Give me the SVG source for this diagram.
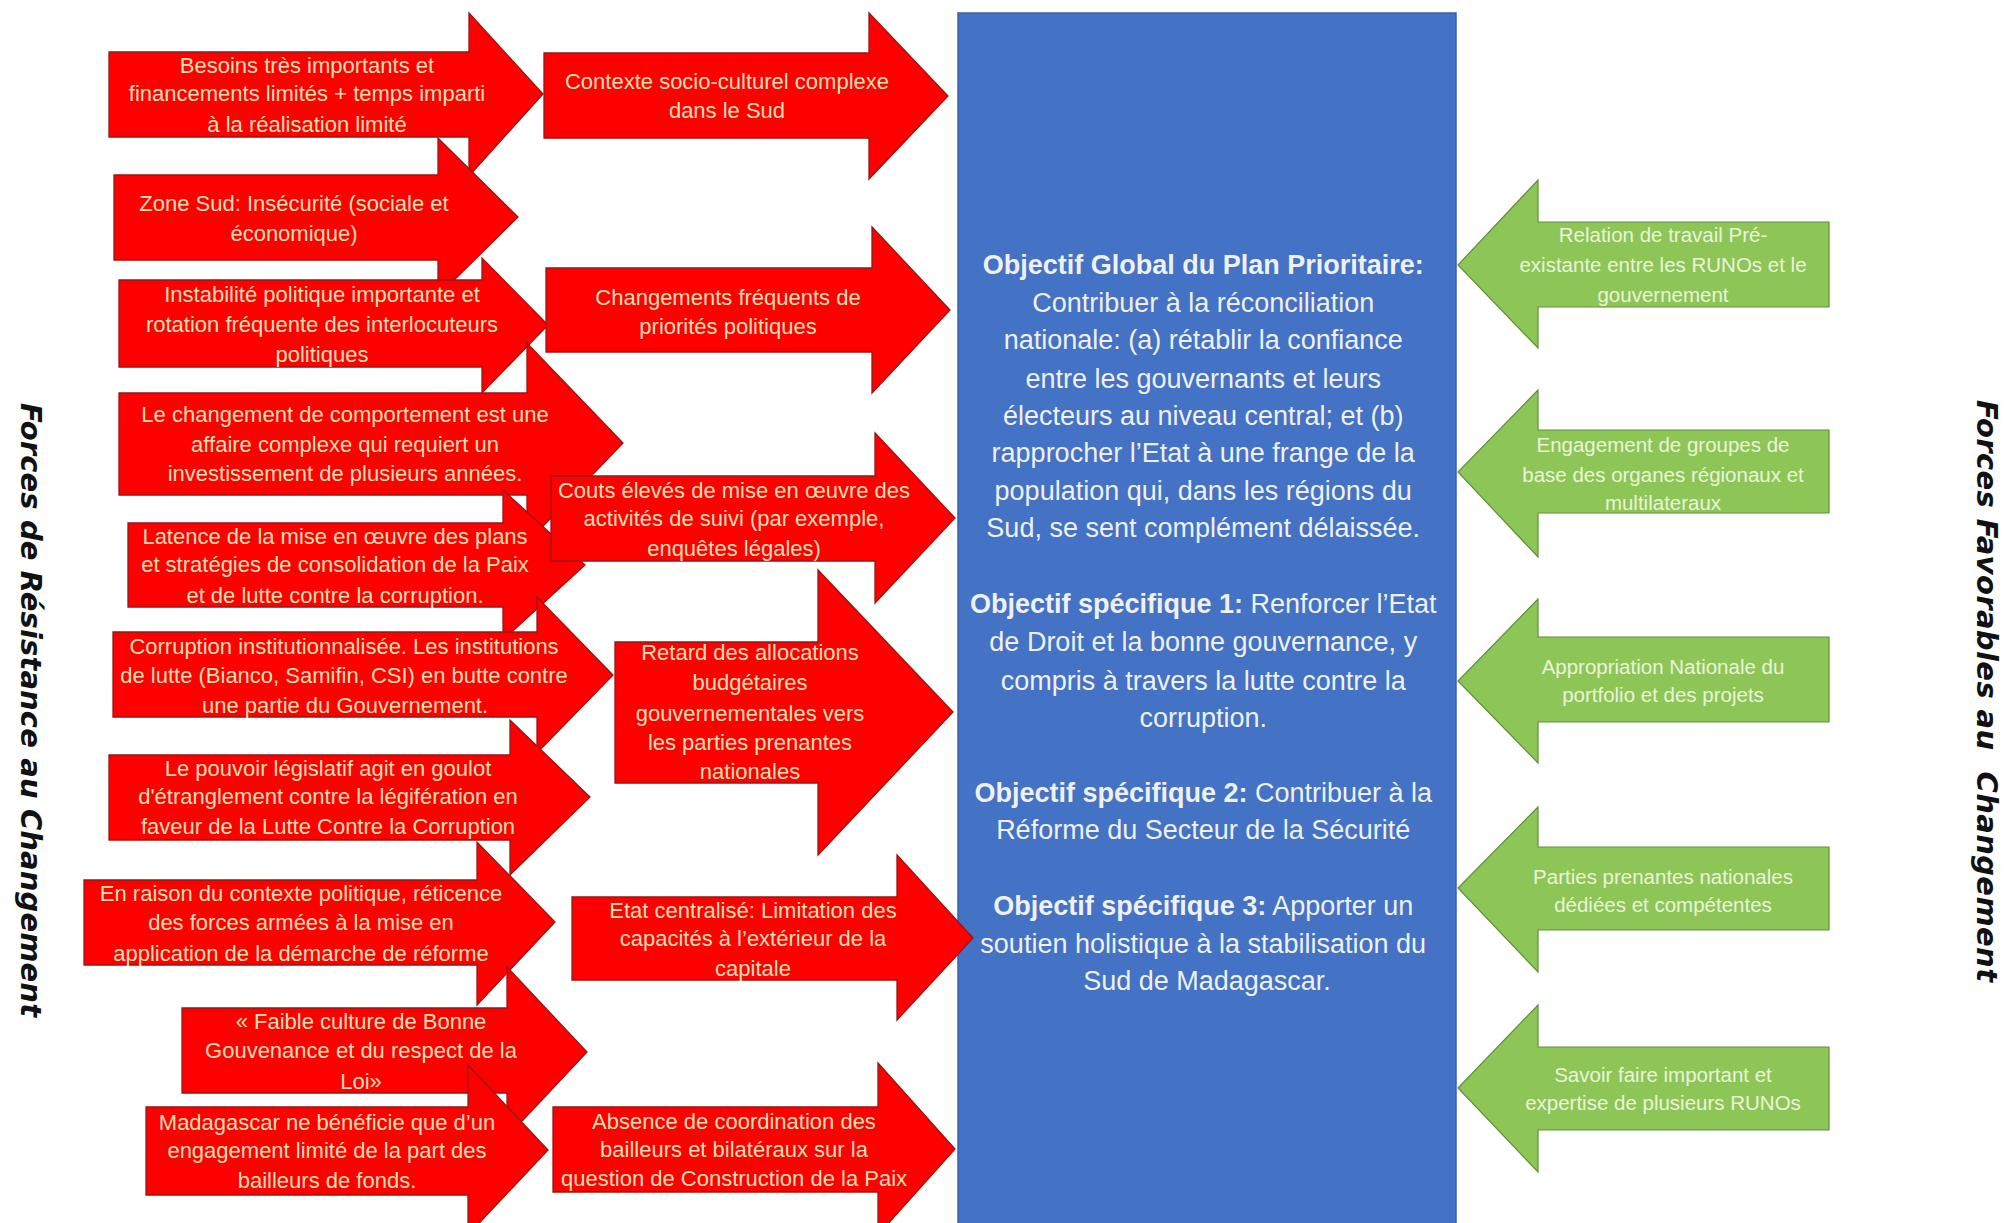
<svg xmlns="http://www.w3.org/2000/svg" width="2006" height="1223" viewBox="0 0 2006 1223">
<style>
.red{fill:#ff0000;stroke:#9a1414;stroke-width:1.3}
.grn{fill:#8dc656;stroke:#5f8f3a;stroke-width:1.2}
.rt{font-family:"Liberation Sans",Arial,sans-serif;font-size:22px;fill:#f7dfb4;text-anchor:middle}
.gt{font-family:"Liberation Sans",Arial,sans-serif;font-size:20.5px;fill:#eaf4dc;text-anchor:middle}
.bt{font-family:"Liberation Sans",Arial,sans-serif;font-size:27px;fill:#f0f0f0;text-anchor:middle}
.b{font-weight:bold}
.side{font-family:"DejaVu Sans",Verdana,sans-serif;font-weight:bold;font-style:italic;font-size:29px;fill:#111;text-anchor:middle;white-space:pre}
</style>
<rect width="2006" height="1223" fill="#ffffff"/>
<g id="objectifs">
<rect x="958" y="13" width="498" height="1215" fill="#4472c4" stroke="#3a62aa" stroke-width="1.5"/>
<text class="bt"><tspan class="b" x="1207" y="274">Objectif Global du Plan Prioritaire:</tspan>
<tspan x="1207" y="312">Contribuer à la réconciliation</tspan>
<tspan x="1207" y="349">nationale: (a) rétablir la confiance</tspan>
<tspan x="1207" y="388">entre les gouvernants et leurs</tspan>
<tspan x="1207" y="425">électeurs au niveau central; et (b)</tspan>
<tspan x="1207" y="462">rapprocher l’Etat à une frange de la</tspan>
<tspan x="1207" y="500">population qui, dans les régions du</tspan>
<tspan x="1207" y="537">Sud, se sent complément délaissée.</tspan>
<tspan x="1207" y="613"><tspan class="b">Objectif spécifique 1:</tspan> Renforcer l’Etat</tspan>
<tspan x="1207" y="651">de Droit et la bonne gouvernance, y</tspan>
<tspan x="1207" y="690">compris à travers la lutte contre la</tspan>
<tspan x="1207" y="727">corruption.</tspan>
<tspan x="1207" y="802"><tspan class="b">Objectif spécifique 2:</tspan> Contribuer à la</tspan>
<tspan x="1207" y="839">Réforme du Secteur de la Sécurité</tspan>
<tspan x="1207" y="915"><tspan class="b">Objectif spécifique 3:</tspan> Apporter un</tspan>
<tspan x="1207" y="953">soutien holistique à la stabilisation du</tspan>
<tspan x="1207" y="990">Sud de Madagascar.</tspan></text>
</g>
<g id="r-besoins"><polygon class="red" points="109,52 469,52 469,13 543,94 469,176 469,137 109,137"/>
<text class="rt"><tspan x="307" y="73">Besoins très importants et</tspan><tspan x="307" y="101">financements limités + temps imparti</tspan><tspan x="307" y="132">à la réalisation limité</tspan></text></g>
<g id="r-zonesud"><polygon class="red" points="114,175 438,175 438,138 518,217 438,296 438,260 114,260"/>
<text class="rt"><tspan x="294" y="211">Zone Sud: Insécurité (sociale et</tspan><tspan x="294" y="241">économique)</tspan></text></g>
<g id="r-instabilite"><polygon class="red" points="119,280 482,280 482,258 548,325 482,393 482,367 119,367"/>
<text class="rt"><tspan x="322" y="302">Instabilité politique importante et</tspan><tspan x="322" y="332">rotation fréquente des interlocuteurs</tspan><tspan x="322" y="362">politiques</tspan></text></g>
<g id="r-comportement"><polygon class="red" points="119,393 527,393 527,343 623,443 527,543 527,495 119,495"/>
<text class="rt"><tspan x="345" y="422">Le changement de comportement est une</tspan><tspan x="345" y="452">affaire complexe qui requiert un</tspan><tspan x="345" y="481">investissement de plusieurs années.</tspan></text></g>
<g id="r-latence"><polygon class="red" points="128,523 503,523 503,490 585,565 503,640 503,607 128,607"/>
<text class="rt"><tspan x="335" y="544">Latence de la mise en œuvre des plans</tspan><tspan x="335" y="572">et stratégies de consolidation de la Paix</tspan><tspan x="335" y="603">et de lutte contre la corruption.</tspan></text></g>
<g id="r-corruption"><polygon class="red" points="113,632 537,632 537,597 613,675 537,753 537,717 113,717"/>
<text class="rt"><tspan x="344" y="654">Corruption institutionnalisée. Les institutions</tspan><tspan x="344" y="683">de lutte (Bianco, Samifin, CSI) en butte contre</tspan><tspan x="345" y="713">une partie du Gouvernement.</tspan></text></g>
<g id="r-pouvoir"><polygon class="red" points="109,755 510,755 510,720 590,797 510,875 510,840 109,840"/>
<text class="rt"><tspan x="328" y="776">Le pouvoir législatif agit en goulot</tspan><tspan x="328" y="804">d'étranglement contre la légifération en</tspan><tspan x="328" y="834">faveur de la Lutte Contre la Corruption</tspan></text></g>
<g id="r-forces"><polygon class="red" points="84,880 477,880 477,842 555,922 477,1005 477,965 84,965"/>
<text class="rt"><tspan x="301" y="901">En raison du contexte politique, réticence</tspan><tspan x="301" y="930">des forces armées à la mise en</tspan><tspan x="301" y="961">application de la démarche de réforme</tspan></text></g>
<g id="r-culture"><polygon class="red" points="182,1008 507,1008 507,967 587,1052 507,1137 507,1093 182,1093"/>
<text class="rt"><tspan x="361" y="1029">« Faible culture de Bonne</tspan><tspan x="361" y="1058">Gouvenance et du respect de la</tspan><tspan x="361" y="1089">Loi»</tspan></text></g>
<g id="r-bailleurs"><polygon class="red" points="146,1107 468,1107 468,1065 548,1150 468,1235 468,1195 146,1195"/>
<text class="rt"><tspan x="327" y="1130">Madagascar ne bénéficie que d’un</tspan><tspan x="327" y="1158">engagement limité de la part des</tspan><tspan x="327" y="1188">bailleurs de fonds.</tspan></text></g>
<g id="r-contexte"><polygon class="red" points="544,53 869,53 869,13 948,96 869,179 869,138 544,138"/>
<text class="rt"><tspan x="727" y="89">Contexte socio-culturel complexe</tspan><tspan x="727" y="118">dans le Sud</tspan></text></g>
<g id="r-changements"><polygon class="red" points="546,268 872,268 872,227 950,310 872,393 872,352 546,352"/>
<text class="rt"><tspan x="728" y="305">Changements fréquents de</tspan><tspan x="728" y="334">priorités politiques</tspan></text></g>
<g id="r-couts"><polygon class="red" points="551,476 875,476 875,433 955,518 875,603 875,561 551,561"/>
<text class="rt"><tspan x="734" y="498">Couts élevés de mise en œuvre des</tspan><tspan x="734" y="526">activités de suivi (par exemple,</tspan><tspan x="734" y="556">enquêtes légales)</tspan></text></g>
<g id="r-retard"><polygon class="red" points="615,642 818,642 818,570 953,712 818,855 818,783 615,783"/>
<text class="rt"><tspan x="750" y="660">Retard des allocations</tspan><tspan x="750" y="690">budgétaires</tspan><tspan x="750" y="721">gouvernementales vers</tspan><tspan x="750" y="750">les parties prenantes</tspan><tspan x="750" y="779">nationales</tspan></text></g>
<g id="r-etat"><polygon class="red" points="572,897 897,897 897,855 973,938 897,1020 897,980 572,980"/>
<text class="rt"><tspan x="753" y="918">Etat centralisé: Limitation des</tspan><tspan x="753" y="946">capacités à l’extérieur de la</tspan><tspan x="753" y="976">capitale</tspan></text></g>
<g id="r-coordination"><polygon class="red" points="553,1107 878,1107 878,1063 955,1149 878,1235 878,1192 553,1192"/>
<text class="rt"><tspan x="734" y="1129">Absence de coordination des</tspan><tspan x="734" y="1157">bailleurs et bilatéraux sur la</tspan><tspan x="734" y="1186">question de Construction de la Paix</tspan></text></g>
<g id="g-relation"><polygon class="grn" points="1829,222 1538,222 1538,180 1458,265 1538,348 1538,307 1829,307"/>
<text class="gt"><tspan x="1663" y="242">Relation de travail Pré-</tspan><tspan x="1663" y="272">existante entre les RUNOs et le</tspan><tspan x="1663" y="302">gouvernement</tspan></text></g>
<g id="g-engagement"><polygon class="grn" points="1829,430 1538,430 1538,390 1458,472 1538,557 1538,513 1829,513"/>
<text class="gt"><tspan x="1663" y="452">Engagement de groupes de</tspan><tspan x="1663" y="482">base des organes régionaux et</tspan><tspan x="1663" y="510">multilateraux</tspan></text></g>
<g id="g-appropriation"><polygon class="grn" points="1829,637 1538,637 1538,599 1458,681 1538,763 1538,722 1829,722"/>
<text class="gt"><tspan x="1663" y="674">Appropriation Nationale du</tspan><tspan x="1663" y="702">portfolio et des projets</tspan></text></g>
<g id="g-parties"><polygon class="grn" points="1829,847 1538,847 1538,807 1458,888 1538,972 1538,930 1829,930"/>
<text class="gt"><tspan x="1663" y="884">Parties prenantes nationales</tspan><tspan x="1663" y="912">dédiées et compétentes</tspan></text></g>
<g id="g-savoir"><polygon class="grn" points="1829,1047 1538,1047 1538,1005 1458,1088 1538,1172 1538,1130 1829,1130"/>
<text class="gt"><tspan x="1663" y="1082">Savoir faire important et</tspan><tspan x="1663" y="1110">expertise de plusieurs RUNOs</tspan></text></g>
<g id="labels">
<text class="side" transform="translate(21,710) rotate(90)" x="0" y="0" textLength="614">Forces de Résistance au Changement</text>
<text class="side" transform="translate(1977,691) rotate(90)" x="0" y="0" textLength="582">Forces Favorables au  Changement</text>
</g>
</svg>
